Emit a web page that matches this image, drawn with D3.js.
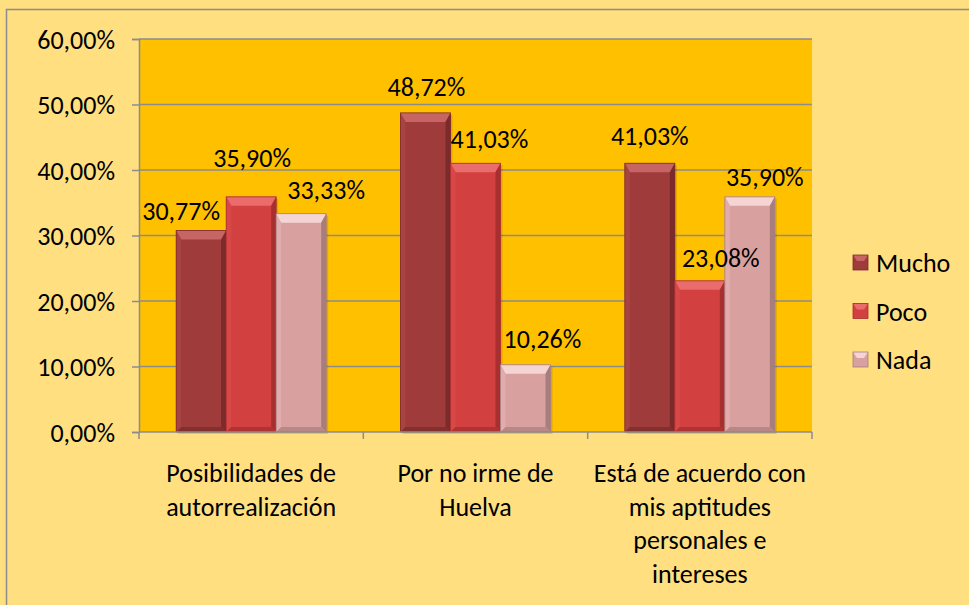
<!DOCTYPE html>
<html>
<head>
<meta charset="utf-8">
<script src="https://cdn.jsdelivr.net/npm/d3@7"></script>
<style>
  body { margin: 0; background: #FFDF80; }
  text { font-family: Carlito, Lato, "Open Sans", sans-serif; fill: #000; }
</style>
</head>
<body>
<div id="chart"></div>
<script>
const categories = [
  ["Posibilidades de", "autorrealización"],
  ["Por no irme de", "Huelva"],
  ["Está de acuerdo con", "mis aptitudes", "personales e", "intereses"]
];
const series = ["Mucho", "Poco", "Nada"];
const mucho = [30.77, 48.72, 41.03];
const poco = [35.90, 41.03, 23.08];
const nada = [33.33, 10.26, 35.90];
const yTicks = [0, 10, 20, 30, 40, 50, 60];

// manual label nudges (dx, dy from default spot above bar), per series then category
const labelNudge = [
  [[-20, 5], [1, -2], [0, -3]],
  [[1, -15], [14, 0], [21, 1]],
  [[25, 0], [17, -2], [15, 4]]
];

const colors = {
  Mucho: { body: "#9F3B3B", top: "#C76565", left: "#A84343", right: "#7C2B2B", bottom: "#82302F" },
  Poco:  { body: "#D24040", top: "#EA6C6C", left: "#D84848", right: "#A82F2F", bottom: "#AF3333" },
  Nada:  { body: "#D9A0A0", top: "#F5D4D4", left: "#E2ACAC", right: "#A67E7E", bottom: "#B88888" }
};

const fontSize = "26px";

function render(containerId) {
  const width = 969, height = 605;
  const margin = { top: 39, left: 139, right: 157, bottom: 173 };
  const innerWidth = width - margin.left - margin.right;
  const innerHeight = height - margin.top - margin.bottom;

  const svg = d3.select(containerId)
    .append("svg")
    .attr("width", width)
    .attr("height", height);

  // chart area
  svg.append("rect")
    .attr("x", 6.5).attr("y", 9.5)
    .attr("width", width).attr("height", height)
    .attr("fill", "#FFDF80")
    .attr("stroke", "#8C8C8C")
    .attr("stroke-width", 1.5);

  const g = svg.append("g")
    .attr("transform", `translate(${margin.left}, ${margin.top})`);

  const x0 = d3.scaleBand()
    .domain(d3.range(categories.length))
    .range([0, innerWidth])
    .paddingInner(0)
    .paddingOuter(0);

  const groupWidth = 150;
  const x1 = d3.scaleBand()
    .domain(series)
    .range([(x0.bandwidth() - groupWidth) / 2, (x0.bandwidth() + groupWidth) / 2]);

  const y = d3.scaleLinear()
    .domain([0, 60])
    .range([innerHeight, 0]);

  g.append("rect")
    .attr("width", innerWidth)
    .attr("height", innerHeight)
    .attr("fill", "#FFC000");

  // gridlines
  g.selectAll(".grid")
    .data(yTicks.filter(d => d > 0))
    .enter()
    .append("line")
    .attr("x1", 0).attr("x2", innerWidth)
    .attr("y1", d => y(d)).attr("y2", d => y(d))
    .attr("stroke", "#8C8C8C")
    .attr("stroke-width", 1.5);

  // y axis
  const yAxis = g.append("g")
    .call(d3.axisLeft(y).tickValues(yTicks).tickSize(7)
      .tickFormat(d => d3.format(".2f")(d).replace(".", ",") + "%"));
  yAxis.select(".domain").attr("stroke", "#8C8C8C").attr("stroke-width", 1.5);
  yAxis.selectAll(".tick line").attr("stroke", "#8C8C8C").attr("stroke-width", 1.5);
  yAxis.selectAll(".tick text")
    .attr("x", -24)
    .attr("dy", "0.35em")
    .style("font-size", fontSize)
    .style("font-family", "Carlito, Lato, 'Open Sans', sans-serif");

  const values = [mucho, poco, nada];
  const rows = [];
  series.forEach((s, si) => {
    values[si].forEach((v, ci) => rows.push({ s, si, ci, v }));
  });

  const bars = g.selectAll(".bar")
    .data(rows)
    .enter()
    .append("g")
    .attr("class", "bar")
    .attr("transform", d => `translate(${x0(d.ci) + x1(d.s)}, 0)`);

  const bw = x1.bandwidth();
  const bev = 9, side = 5;

  // soft shadow
  bars.append("rect")
    .attr("x", 2).attr("y", d => y(d.v) + 2)
    .attr("width", bw).attr("height", d => innerHeight - y(d.v))
    .attr("fill", "#000").attr("opacity", 0.12);

  bars.append("rect")
    .attr("x", 0).attr("y", d => y(d.v))
    .attr("width", bw).attr("height", d => innerHeight - y(d.v))
    .attr("fill", d => colors[d.s].body);

  bars.append("path")
    .attr("d", d => {
      const t = y(d.v);
      return `M0,${t}L${bw},${t}L${bw - side},${t + bev}L${side},${t + bev}Z`;
    })
    .attr("fill", d => colors[d.s].top);

  bars.append("path")
    .attr("d", d => {
      const t = y(d.v), b = innerHeight;
      return `M0,${t}L${side},${t + bev}L${side},${b - side}L0,${b}Z`;
    })
    .attr("fill", d => colors[d.s].left);

  bars.append("path")
    .attr("d", d => {
      const t = y(d.v), b = innerHeight;
      return `M${bw},${t}L${bw - side},${t + bev}L${bw - side},${b - side}L${bw},${b}Z`;
    })
    .attr("fill", d => colors[d.s].right);

  bars.append("path")
    .attr("d", () => {
      const b = innerHeight;
      return `M0,${b}L${side},${b - side}L${bw - side},${b - side}L${bw},${b}Z`;
    })
    .attr("fill", d => colors[d.s].bottom);

  bars.append("rect")
    .attr("x", 0).attr("y", d => y(d.v))
    .attr("width", bw).attr("height", d => innerHeight - y(d.v))
    .attr("fill", "none")
    .attr("stroke", d => colors[d.s].right)
    .attr("stroke-width", 0.8);

  // x axis
  g.append("line")
    .attr("x1", 0).attr("x2", innerWidth)
    .attr("y1", innerHeight).attr("y2", innerHeight)
    .attr("stroke", "#8C8C8C").attr("stroke-width", 1.5);

  g.selectAll(".xtick")
    .data(d3.range(categories.length + 1))
    .enter()
    .append("line")
    .attr("x1", d => d * x0.bandwidth()).attr("x2", d => d * x0.bandwidth())
    .attr("y1", innerHeight).attr("y2", innerHeight + 7)
    .attr("stroke", "#8C8C8C").attr("stroke-width", 1.5);

  const catLabels = g.selectAll(".cat")
    .data(categories)
    .enter()
    .append("text")
    .attr("text-anchor", "middle")
    .attr("transform", (d, i) => `translate(${x0(i) + x0.bandwidth() / 2}, ${innerHeight + 50})`)
    .style("font-size", fontSize);

  catLabels.selectAll("tspan")
    .data(d => d)
    .enter()
    .append("tspan")
    .attr("x", 0)
    .attr("y", (d, i) => i * 33.5)
    .text(d => d);

  // data labels
  g.selectAll(".val")
    .data(rows)
    .enter()
    .append("text")
    .attr("text-anchor", "middle")
    .attr("x", d => x0(d.ci) + x1(d.s) + bw / 2 + labelNudge[d.si][d.ci][0])
    .attr("y", d => y(d.v) - 15 + labelNudge[d.si][d.ci][1])
    .style("font-size", fontSize)
    .text(d => d3.format(".2f")(d.v).replace(".", ",") + "%");

  // legend
  const legend = svg.append("g")
    .attr("transform", `translate(853, 263)`);

  const legendItem = legend.selectAll(".legend-item")
    .data(series)
    .enter()
    .append("g")
    .attr("class", "legend-item")
    .attr("transform", (d, i) => `translate(0, ${i * 48.5})`);

  legendItem.append("rect")
    .attr("x", 0).attr("y", -8)
    .attr("width", 15).attr("height", 15)
    .attr("fill", d => colors[d].body);

  legendItem.append("path")
    .attr("d", "M0,-8L15,-8L11,-2L4,-2Z")
    .attr("fill", d => colors[d].top);

  legendItem.append("rect")
    .attr("x", 0).attr("y", -8)
    .attr("width", 15).attr("height", 15)
    .attr("fill", "none")
    .attr("stroke", d => colors[d].right)
    .attr("stroke-width", 0.8);

  legendItem.append("text")
    .attr("x", 23)
    .attr("y", 9)
    .style("font-size", fontSize)
    .text(d => d);
}

render("#chart");
</script>
</body>
</html>
